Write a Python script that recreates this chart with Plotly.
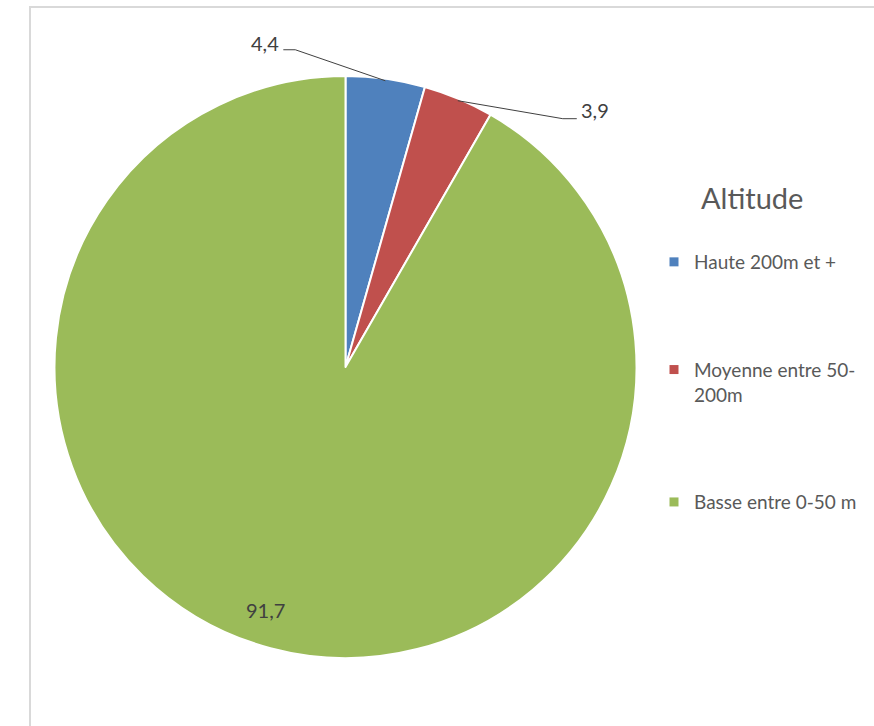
import math
import plotly.graph_objects as go

# ---- data ----
labels = ["Haute 200m et +", "Moyenne entre 50-200m", "Basse entre 0-50 m"]
legend_labels = ["Haute 200m et +", "Moyenne entre 50-<br>200m", "Basse entre 0-50 m"]
values = [4.4, 3.9, 91.7]
colors = ["#4F81BD", "#C0504D", "#9BBB59"]
legend_title = "Altitude"

# ---- layout helpers (pixel -> paper) ----
W, H = 874, 726
def px(x): return x / W
def py(y): return 1 - y / H

cx, cy, R = 345.5, 367, 291  # pie centre / radius in pixels
FONT = "Lato, Calibri, sans-serif"

fig = go.Figure()
fig.add_trace(go.Pie(
    labels=labels, values=values, sort=False, direction="clockwise", rotation=0,
    marker=dict(colors=colors, line=dict(color="white", width=2)),
    textinfo="none", hoverinfo="label+value", showlegend=False,
    domain=dict(x=[px(cx - R), px(cx + R)], y=[py(cy + R), py(cy - R)]),
))

# legend entries (one group per category so gaps can be spaced like the original)
for lab, col in zip(legend_labels, colors):
    fig.add_trace(go.Scatter(
        x=[None], y=[None], mode="markers", name=lab, legendgroup=lab,
        marker=dict(symbol="square", size=9, color=col), hoverinfo="skip",
    ))

# data labels computed from the slice angles
total = sum(values)
cum = 0
mids = []
for v in values:
    mids.append((cum + v / 2) / total * 2 * math.pi)
    cum += v

def edge(a, r):
    return cx + r * math.sin(a), cy - r * math.cos(a)

def fmt(v):
    return f"{v:.1f}".replace(".", ",")

shapes = []
annotations = []
# leader-line style labels for the two small slices
leader = [  # (elbow dx, elbow dy, end dx, side)
    (-90, -31, -102, "left"),
    (105, 18, 119, "right"),
]
for i in range(2):
    sx, sy = edge(mids[i], R - 2)
    edx, edy, endx, side = leader[i]
    ex, ey = sx + edx, sy + edy
    tx = sx + endx
    shapes.append(dict(
        type="path", xref="paper", yref="paper",
        path=f"M {px(sx)} {py(sy)} L {px(ex)} {py(ey)} L {px(tx)} {py(ey)}",
        line=dict(color="#404040", width=1),
    ))
    annotations.append(dict(
        x=px(tx - 2 if side == "left" else tx + 2), y=py(ey - (7 if side == "left" else 9)),
        xref="paper", yref="paper", text=fmt(values[i]), showarrow=False,
        xanchor="right" if side == "left" else "left", yanchor="middle",
        font=dict(family=FONT, size=20, color="#404040"),
    ))
# inside label for the big slice
gx, gy = edge(mids[2], R * 0.88)
annotations.append(dict(
    x=px(gx - 14), y=py(gy - 4), xref="paper", yref="paper", text=fmt(values[2]),
    showarrow=False, xanchor="center", yanchor="middle",
    font=dict(family=FONT, size=20, color="#404040"),
))
# legend title
annotations.append(dict(
    x=px(752), y=py(198), xref="paper", yref="paper", text=legend_title,
    showarrow=False, xanchor="center", yanchor="middle",
    font=dict(family=FONT, size=29, color="#595959"),
))

# chart-area border (top and left edges visible in crop)
shapes.append(dict(
    type="path", xref="paper", yref="paper",
    path=f"M {px(30)} 0 L {px(30)} {py(7)} L 1 {py(7)}",
    line=dict(color="#D9D9D9", width=2),
))

fig.update_layout(
    width=W, height=H, margin=dict(l=0, r=0, t=0, b=0),
    paper_bgcolor="white", plot_bgcolor="white",
    xaxis=dict(visible=False), yaxis=dict(visible=False),
    shapes=shapes, annotations=annotations,
    legend=dict(
        x=px(654), y=py(243), xanchor="left", yanchor="top",
        font=dict(family=FONT, size=19, color="#595959"),
        tracegroupgap=80, valign="top", bgcolor="rgba(0,0,0,0)",
        itemwidth=30,
    ),
)
fig.write_html("out.html", config={"displayModeBar": False},
               post_script="document.body.style.margin='0';")
